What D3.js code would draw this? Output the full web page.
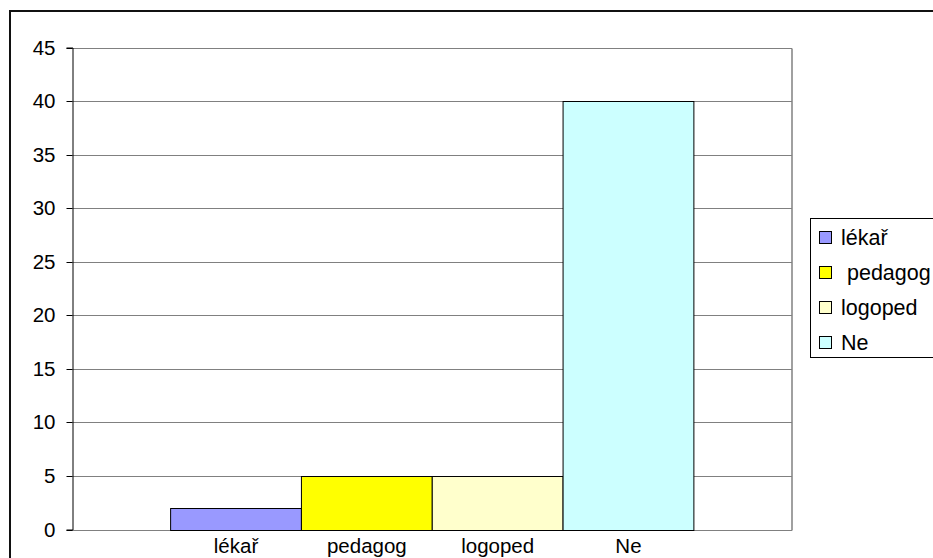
<!DOCTYPE html>
<html>
<head>
<meta charset="utf-8">
<script src="https://cdn.jsdelivr.net/npm/d3@7"></script>
<style>
  html, body { margin: 0; padding: 0; background: #fff; }
  svg { display: block; }
  text { font-family: "Liberation Sans", Arial, sans-serif; fill: #000; }
</style>
</head>
<body>
<svg id="chart" width="933" height="558"></svg>
<script>
// Responses: who recommended speech therapy
const categories = ["lékař", "pedagog", "logoped", "Ne"];
const legendLabels = ["lékař", " pedagog", "logoped", "Ne"];
const values = [2, 5, 5, 40];
const colors = ["#9999FF", "#FFFF00", "#FFFFCC", "#CCFFFF"];
const yTicks = [0, 5, 10, 15, 20, 25, 30, 35, 40, 45];

const svg = d3.select("#chart");

// Plot area bounds
const plot = { left: 72.5, right: 792, top: 47.5, bottom: 529.5 };

// Outer chart frame
svg.append("rect")
  .attr("x", 10).attr("y", 11)
  .attr("width", 940).attr("height", 560)
  .attr("fill", "none").attr("stroke", "#111").attr("stroke-width", 2);

const x = d3.scaleBand()
  .domain(categories)
  .range([plot.left, plot.right])
  .paddingInner(0)
  .paddingOuter(0.75);

const y = d3.scaleLinear()
  .domain([0, 45])
  .range([plot.bottom, plot.top]);

// Horizontal gridlines
svg.append("g")
  .selectAll("line")
  .data(yTicks)
  .join("line")
  .attr("x1", plot.left).attr("x2", plot.right)
  .attr("y1", d => Math.round(y(d)) + 0.5).attr("y2", d => Math.round(y(d)) + 0.5)
  .attr("stroke", "#808080").attr("stroke-width", 1);

// Right border of plot area
svg.append("line")
  .attr("x1", plot.right).attr("x2", plot.right)
  .attr("y1", Math.round(y(45)) + 0.5).attr("y2", Math.round(y(0)) + 0.5)
  .attr("stroke", "#808080").attr("stroke-width", 1.5);

// Bars
svg.append("g")
  .selectAll("rect")
  .data(values)
  .join("rect")
  .attr("x", (d, i) => x(categories[i]))
  .attr("width", x.bandwidth())
  .attr("y", d => Math.round(y(d)) + 0.5)
  .attr("height", d => Math.round(y(0)) - Math.round(y(d)))
  .attr("fill", (d, i) => colors[i])
  .attr("stroke", "#000").attr("stroke-width", 1);

// Y axis
const yAxis = d3.axisLeft(y)
  .tickValues(yTicks)
  .tickSize(6)
  .tickPadding(11);
const yg = svg.append("g")
  .attr("transform", `translate(${plot.left},0)`)
  .call(yAxis);
yg.selectAll(".tick").attr("transform", d => `translate(0,${Math.round(y(d)) + 0.5})`);
yg.select(".domain").attr("stroke", "#000");
yg.selectAll(".tick line").attr("stroke", "#000");
yg.selectAll(".tick text")
  .attr("font-size", 20.5)
  .attr("font-family", "Liberation Sans, Arial, sans-serif")
  .attr("fill", "#000");

// Category labels under bars
svg.append("g")
  .selectAll("text")
  .data(categories)
  .join("text")
  .attr("x", d => x(d) + x.bandwidth() / 2)
  .attr("y", 553)
  .attr("text-anchor", "middle")
  .attr("font-size", 20.5)
  .text(d => d);

// Legend
const legend = svg.append("g");
legend.append("rect")
  .attr("x", 810.5).attr("y", 218.5)
  .attr("width", 140).attr("height", 139)
  .attr("fill", "#fff").attr("stroke", "#000").attr("stroke-width", 1);

const items = legend.selectAll("g.item")
  .data(legendLabels)
  .join("g")
  .attr("class", "item")
  .attr("transform", (d, i) => `translate(0,${237.5 + i * 35})`);
items.append("rect")
  .attr("x", 819.5).attr("y", -6)
  .attr("width", 12).attr("height", 12)
  .attr("fill", (d, i) => colors[i])
  .attr("stroke", "#000").attr("stroke-width", 1);
items.append("text")
  .attr("x", 841).attr("y", 7.5)
  .attr("font-size", 21.5)
  .attr("xml:space", "preserve")
  .style("white-space", "pre")
  .text(d => d);
</script>
</body>
</html>
